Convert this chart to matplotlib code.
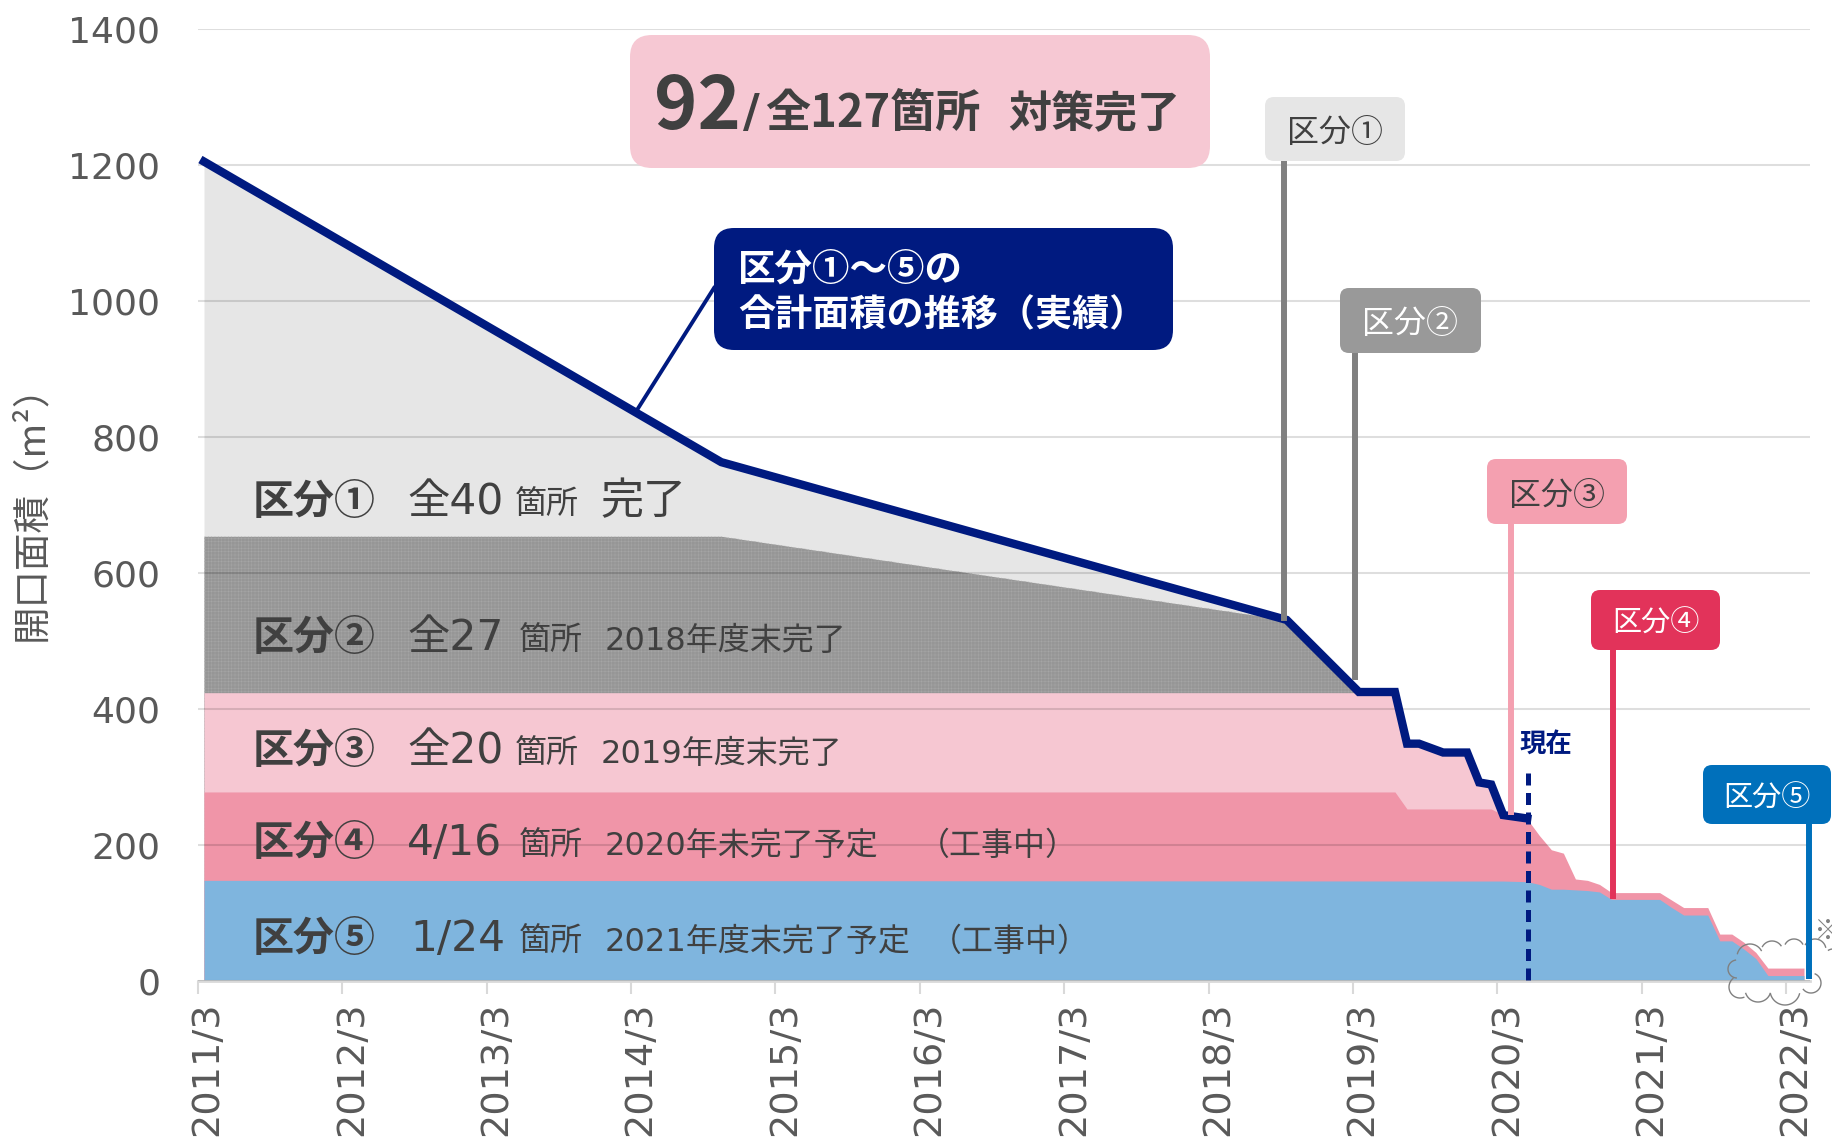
import numpy as np
import matplotlib
matplotlib.use("Agg")
import matplotlib.pyplot as plt
from matplotlib.patches import FancyBboxPatch

W, H = 1833, 1141
CJK = ["Noto Sans CJK JP", "DejaVu Sans"]
LATIN = ["DejaVu Sans", "Noto Sans CJK JP"]
TEXT = "#404040"
AXIS_TEXT = "#595959"
NAVY = "#001A80"

# month index counted from 2011/3, value = stacked top of the layer (m2)
total_x = [0, 43, 90, 96, 99, 100, 101, 103, 105, 106, 107, 108, 110]
total_y = [1205, 763, 531, 425, 425, 349, 349, 336, 336, 292, 289, 244, 239]

cat1_x = [0, 43, 90]
cat1_y = [1205, 763, 531]
cat2_x = [0, 43, 90, 96]
cat2_y = [654, 654, 531, 424]
cat3_x = [0, 96, 99, 100, 101, 103, 105, 106, 107, 108]
cat3_y = [424, 424, 424, 349, 349, 336, 336, 292, 289, 244]
cat4_x = [0, 99, 100, 107, 108, 110, 111, 112, 113, 114, 115, 116, 117, 121, 122, 123, 125, 126, 127, 128, 129, 130, 133]
cat4_y = [278, 278, 253, 253, 244, 238, 214, 193, 188, 150, 148, 142, 130, 130, 119, 108, 108, 69, 69, 57, 42, 19, 19]
cat5_x = [0, 108, 110, 111, 112, 113, 114, 115, 116, 117, 121, 122, 123, 125, 126, 127, 128, 129, 130, 133]
cat5_y = [148, 147, 146, 142, 135, 135, 134, 133, 131, 120, 120, 108, 97, 97, 59, 59, 47, 33, 8, 8]

layer_colors = ["#E6E6E6", "#969696", "#F6C7D2", "#F095A8", "#7FB5DE"]
layers = [(cat1_x, cat1_y), (cat2_x, cat2_y), (cat3_x, cat3_y), (cat4_x, cat4_y), (cat5_x, cat5_y)]

y_ticks = [0, 200, 400, 600, 800, 1000, 1200, 1400]
x_tick_labels = [f"{y}/3" for y in range(2011, 2023)]
n_months = 134

plt.rcParams["hatch.linewidth"] = 0.3

fig = plt.figure(figsize=(W / 100, H / 100), dpi=100)
ax = fig.add_axes([198 / W, 1 - 981 / H, 1612 / W, 952 / H])
ax.set_xlim(0, n_months)
ax.set_ylim(0, 1400)

for (xs, ys), color in zip(layers[:2], layer_colors[:2]):
    ax.fill_between(np.array(xs) + 0.5, ys, 0, color=color, linewidth=0, zorder=1)
# fine screen on the grey band
ax.fill_between(np.array(cat2_x) + 0.5, cat2_y, 0, facecolor="none", edgecolor="#A8A8A8",
                hatch="+++++", linewidth=0, zorder=1)
for (xs, ys), color in zip(layers[2:], layer_colors[2:]):
    ax.fill_between(np.array(xs) + 0.5, ys, 0, color=color, linewidth=0, zorder=1)

ax.plot(np.array(total_x) + 0.5, total_y, color=NAVY, lw=6, zorder=3, solid_joinstyle="miter")

ax.set_yticks(y_ticks)
ax.yaxis.grid(True, color="black", alpha=0.13, lw=1.5, zorder=2)
ax.set_axisbelow(False)
ax.xaxis.grid(False)
for side in ["top", "right", "left"]:
    ax.spines[side].set_visible(False)
ax.spines["bottom"].set_color("#D9D9D9")
ax.spines["bottom"].set_linewidth(2)
ax.tick_params(axis="y", length=0, pad=27, labelsize=26, labelcolor=AXIS_TEXT)

tick_pos = np.arange(len(x_tick_labels)) * 12
ax.set_xticks(tick_pos)
ax.set_xticklabels([])
ax.tick_params(axis="x", which="major", length=9.5, width=1.5, color="#D9D9D9")
ax.set_xticks(tick_pos + 0.8, x_tick_labels, minor=True, rotation=90)
ax.tick_params(axis="x", which="minor", length=0, pad=15, labelsize=27.5, labelcolor=AXIS_TEXT)

# overlay in picture pixels for the call-outs
ov = fig.add_axes([0, 0, 1, 1], zorder=5)
ov.set_xlim(0, W)
ov.set_ylim(H, 0)
ov.axis("off")
ov.patch.set_alpha(0)


def box(x0, y0, x1, y1, color, r):
    ov.add_patch(FancyBboxPatch((x0 + r, y0 + r), x1 - x0 - 2 * r, y1 - y0 - 2 * r,
                                boxstyle=f"round,pad={r},rounding_size={r}", fc=color, ec="none"))


def txt(x, y, s, size, color=TEXT, bold=False, fam=CJK, **kw):
    kw.setdefault("va", "baseline")
    ov.text(x, y, s, fontsize=size, color=color, family=fam,
            fontweight="bold" if bold else "normal", **kw)


# cloud outline: (centre x, centre y, radius, start deg, end deg)
cloud = [(1737, 969, 9, 100, 265), (1750, 957, 13, 30, 165), (1772, 952, 11, 35, 150),
         (1794, 949, 10, 30, 150), (1815, 950, 11, 15, 150), (1833, 958, 9, 60, 120),
         (1811, 983, 10, -140, 65), (1785, 990, 15, 195, 345), (1758, 989, 13, 200, 340),
         (1740, 987, 11, 130, 290)]
for cx, cy, r, t0, t1 in cloud:
    t = np.radians(np.linspace(t0, t1, 40))
    ov.plot(cx + r * np.cos(t), cy - r * np.sin(t), color="#808080", lw=1.0)
txt(1828, 925, "※", 20, color="#808080", rotation=90, va="center", ha="center")

# leaders
leaders = [(1284, 161, 621, "#808080"), (1355, 353, 680, "#808080"), (1511, 524, 815, "#F4A0B0"),
           (1613, 650, 899, "#E2335A"), (1809, 824, 979, "#0070BB")]
for x, y0, y1, color in leaders:
    ov.plot([x, x], [y0, y1], color=color, lw=4.3, solid_capstyle="butt")
ov.plot([1528, 1528], [773, 981], color=NAVY, lw=3.6, linestyle=(0, (2.4, 1.5)), dash_capstyle="butt")
ov.plot([714, 637], [288, 410], color=NAVY, lw=2.8)
txt(1546, 744, "現在", 19, color=NAVY, bold=True, ha="center", va="center")

# tags
tags = [(1265, 97, 1405, 161, "#E6E6E6", "区分①", TEXT), (1340, 288, 1481, 353, "#999999", "区分②", "white"),
        (1487, 459, 1627, 524, "#F4A0B0", "区分③", TEXT), (1591, 590, 1720, 650, "#E2335A", "区分④", "white"),
        (1703, 765, 1831, 824, "#0070BB", "区分⑤", "white")]
for x0, y0, x1, y1, color, s, tc in tags:
    box(x0, y0, x1, y1, color, 9)
    size = 21 if s in ("区分④", "区分⑤") else 23
    txt((x0 + x1) / 2, (y0 + y1) / 2 + 4, s, size, color=tc, ha="center", va="center")

# headline box
box(630, 35, 1210, 168, "#F6C8D3", 22)
txt(654, 129, "92", 53, bold=True)
txt(743, 127, "/", 33, bold=True, fam=LATIN)
txt(765, 127, "全127箇所", 32.5, bold=True)
txt(1008, 127, "対策完了", 31, bold=True)

# total callout
box(714, 228, 1173, 350, NAVY, 20)
txt(738, 281, "区分①～⑤の", 27, color="white", bold=True)
txt(738, 326, "合計面積の推移（実績）", 26.7, color="white", bold=True)

# rows inside the areas
rows = [
    (499, "区分①", "全40", 407, 515, 23, "完了", 601, 31, None, None),
    (635, "区分②", "全27", 407, 519, 23, "2018年度末完了", 605, 23, None, None),
    (748, "区分③", "全20", 407, 515, 23, "2019年度末完了", 601, 23, None, None),
    (840, "区分④", "4/16", 407, 519, 23, "2020年未完了予定", 605, 23, "（工事中）", 918),
    (936, "区分⑤", "1/24", 410, 519, 23, "2021年度末完了予定", 605, 23, "（工事中）", 930),
]
for y, name, count, cx, kx, ksize, note, nx, nsize, extra, ex in rows:
    txt(253, y + 15, name, 29.5, bold=True)
    txt(cx, y + 15, count, 30.5, fam=LATIN)
    txt(kx, y + 15, "箇所", ksize)
    txt(nx, y + 15, note, nsize, fam=LATIN)
    if extra:
        txt(ex, y + 15, extra, nsize)

txt(32, 503, "開口面積（m²）", 27, color=AXIS_TEXT, rotation=90, ha="center", va="center")

fig.savefig("out.png", dpi=100)
